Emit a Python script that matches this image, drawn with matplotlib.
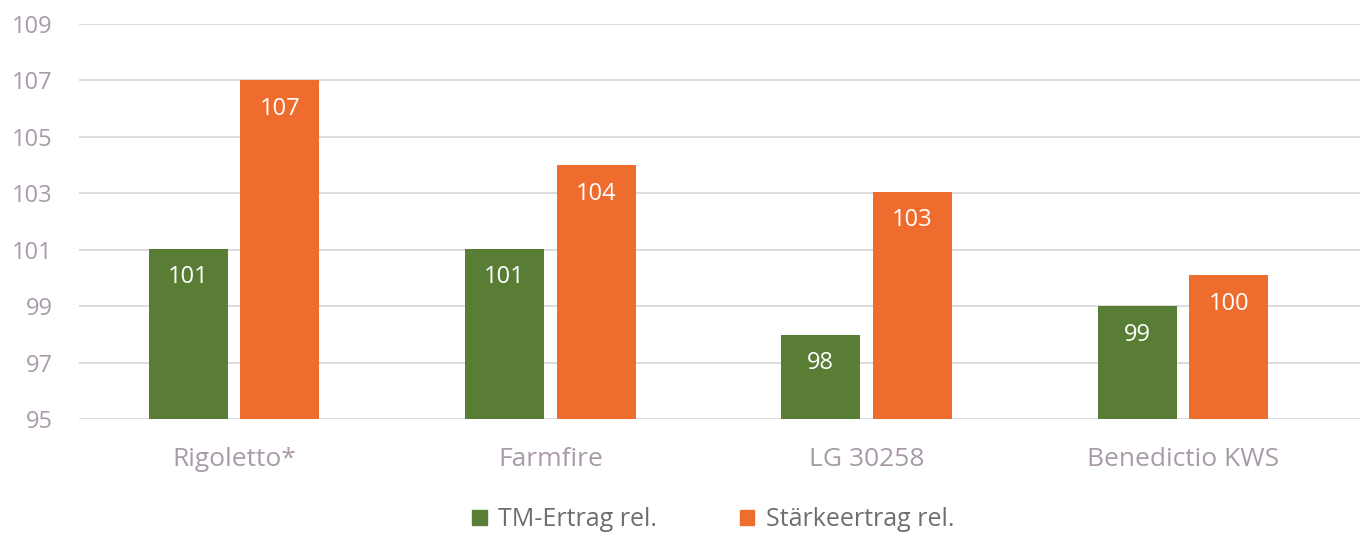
import matplotlib
matplotlib.use("Agg")
import matplotlib.pyplot as plt
import numpy as np
from matplotlib.patches import Patch

categories = ["Rigoletto*", "Farmfire", "LG 30258", "Benedictio KWS"]
tm_ertrag = [101.03, 101.03, 97.98, 99.0]
staerke = [107.0, 104.0, 103.05, 100.1]
series_names = ["TM-Ertrag rel.", "Stärkeertrag rel."]
yticks = [95, 97, 99, 101, 103, 105, 107, 109]

GREEN = "#5a7d36"
ORANGE = "#ef6c2f"
TICK_COL = "#a99aaa"
LEG_COL = "#6d6e71"

plt.rcParams['font.family'] = ['Open Sans', 'DejaVu Sans']

W, H = 1363, 535
fig = plt.figure(figsize=(W / 100, H / 100), dpi=100)
ax = fig.add_axes([79 / W, 1 - 419 / H, (1360 - 79) / W, (419 - 24) / H])

x = np.arange(len(categories))
bw = 0.25
off = 0.145
b1 = ax.bar(x - off, np.array(tm_ertrag) - 95, bottom=95, width=bw, color=GREEN, zorder=3)
b2 = ax.bar(x + off, np.array(staerke) - 95, bottom=95, width=bw, color=ORANGE, zorder=3)

for bars, vals in ((b1, tm_ertrag), (b2, staerke)):
    for r, v in zip(bars, vals):
        ax.annotate(f"{round(v):d}", (r.get_x() + r.get_width() / 2, v),
                    xytext=(0, -20.5), textcoords="offset points",
                    ha="center", va="center", color="white", fontsize=17, zorder=4)

ax.set_ylim(95, 109)
# x=0 at ~234 px, 316.35 px per category
ax.set_xlim(-(234 - 79) / 316.35, (1360 - 234) / 316.35)
ax.set_yticks(yticks)
ax.set_yticklabels([str(t) for t in yticks])
ax.set_xticks(x)
ax.set_xticklabels(categories)
ax.grid(axis="y", color="#d9d9d9", linewidth=1.3, zorder=0)
ax.set_axisbelow(True)
for s in ax.spines.values():
    s.set_visible(False)
ax.tick_params(axis="y", length=0, labelsize=17, colors=TICK_COL, pad=19)
ax.tick_params(axis="x", length=0, labelsize=19, colors=TICK_COL, pad=20)

handles = [Patch(color=GREEN), Patch(color=ORANGE)]
leg = fig.legend(handles, series_names, loc="center", bbox_to_anchor=(713 / W, 1 - 520 / H),
                 ncol=2, frameon=False, fontsize=18, handlelength=0.58, handleheight=0.58,
                 handletextpad=0.46, columnspacing=3.3, borderpad=0)
for t in leg.get_texts():
    t.set_color(LEG_COL)

fig.savefig("out.png", dpi=100)
